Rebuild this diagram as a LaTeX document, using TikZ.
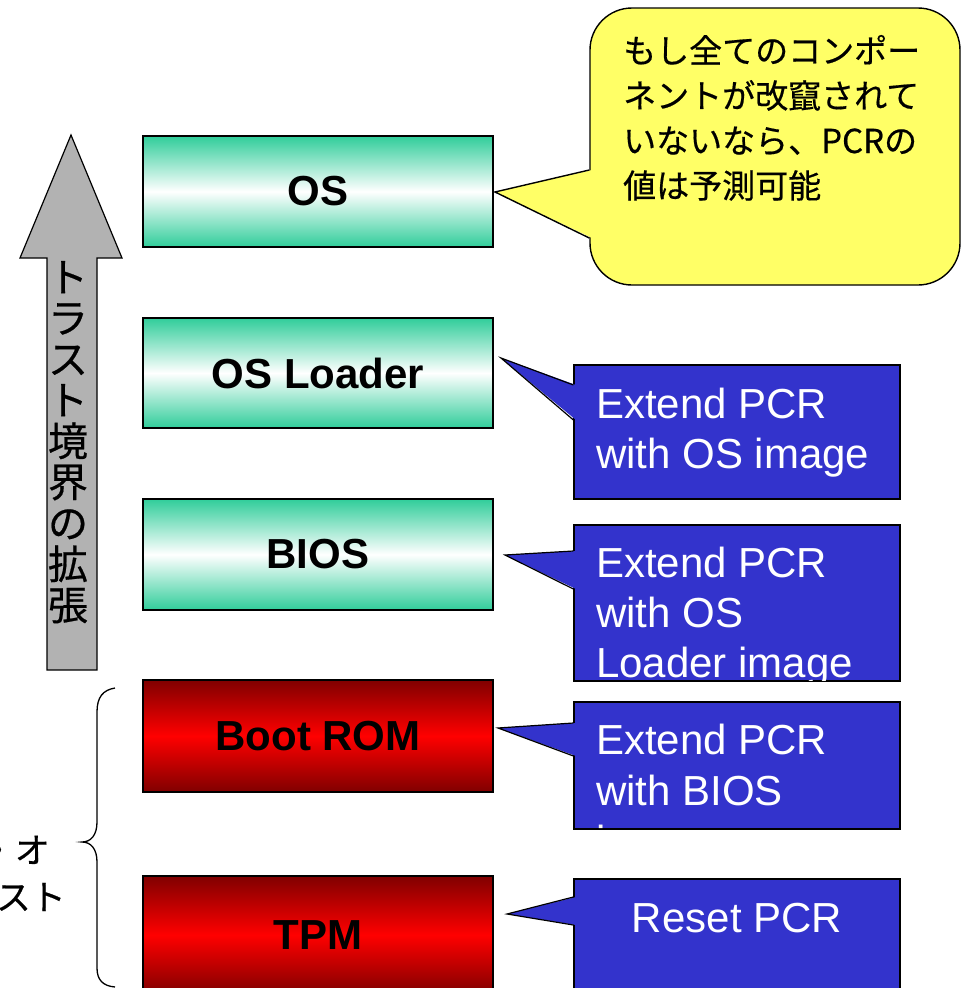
\documentclass[tikz,border=0pt]{standalone}
\usepackage{fontspec}
\setmainfont{Liberation Sans}
\newfontfamily\jpfont[FakeBold=0.5]{Noto Sans CJK JP}

\definecolor{tealc}{RGB}{48,205,154}
\definecolor{deepred}{RGB}{128,0,0}
\definecolor{purered}{RGB}{255,0,0}
\definecolor{pcrblue}{RGB}{51,51,204}
\definecolor{noteyellow}{RGB}{255,255,102}
\definecolor{arrowgray}{RGB}{178,178,178}

\tikzset{
  layer/.style={draw=black, line width=1.6pt, minimum width=350pt, inner sep=0pt,
    font=\fontsize{42}{50}\selectfont\bfseries},
  trusted/.style={layer, top color=tealc, bottom color=tealc, middle color=white},
  rootlayer/.style={layer, top color=deepred, bottom color=deepred, middle color=purered},
  pcrbox/.style={draw=black, line width=1.2pt, fill=pcrblue, minimum width=326pt, inner sep=0pt},
  pcrtext/.style={text=white, inner sep=0pt, font=\fontsize{42}{50}\selectfont},
  notetext/.style={inner sep=0pt, anchor=base west, font=\jpfont\fontsize{33}{40}\selectfont},
  sidetext/.style={inner sep=0pt, anchor=base east, font=\jpfont\fontsize{35}{40}\selectfont},
  edge/.style={draw=black, line width=1.2pt, line join=miter},
}

\begin{document}
\begin{tikzpicture}[x=1pt, y=-1pt]
\useasboundingbox (0,0) rectangle (962,988);
\clip (0,0) rectangle (962,988);

% upward block arrow: growth of the trust boundary
\draw[fill=arrowgray, line width=1.2pt, line join=miter]
  (47,670) -- (47,258) -- (20,258) -- (71,135) -- (122,258) -- (97,258) -- (97,670) -- cycle;
\foreach \ch [count=\i from 0] in {ト,ラ,ス,ト,境,界,の,拡,張}
  \node[inner sep=0pt, anchor=base, font=\jpfont\fontsize{40}{40}\selectfont]
    at (68,{292+41*\i}) {\ch};

% brace grouping the root layers, with its (partly off-page) label
\draw[line width=1.3pt]
  (115,688) .. controls (103,690) and (97,697) .. (97,712) -- (97,822)
  .. controls (97,835) and (91,842) .. (82,842)
  .. controls (91,842) and (97,849) .. (97,862) -- (97,968)
  .. controls (97,980) and (103,986) .. (115,987);
\node[sidetext] (rl1) at (50,863) {ルート・オ};
\node[sidetext] (rl2) at (66,910) {ブ・トラスト};

% boot chain layers
\node[trusted, minimum height=111pt] (os)   at (318,191.5) {OS};
\node[trusted, minimum height=110pt] (osl)  at (318,373)   {OS Loader};
\node[trusted, minimum height=111pt] (bios) at (318,554.5) {BIOS};
\node[rootlayer, minimum height=112pt] (brom) at (318,736) {Boot ROM};
\node[rootlayer, minimum height=118pt] (tpm)  at (318,935) {TPM};

% note balloon
\node[draw=black, line width=1.4pt, fill=noteyellow, rounded corners=42pt,
      minimum width=370pt, minimum height=277pt, inner sep=0pt] (note) at (775,146.5) {};
\coordinate (nt) at (495,192);
\fill[noteyellow] (nt) -- (592,170) -- (592,238) -- cycle;
\draw[edge, line width=1.4pt] (note.west |- 0,170) -- (nt) -- (note.west |- 0,238);
\node[notetext] at (623,63)  {もし全てのコンポー};
\node[notetext] at (623,108) {ネントが改竄されて};
\node[notetext] at (623,153) {いないなら、PCRの};
\node[notetext] at (623,198) {値は予測可能};

% PCR callouts
\node[pcrbox, minimum height=134pt] (c1) at (737,432)   {};
\node[pcrbox, minimum height=156pt] (c2) at (737,603)   {};
\node[pcrbox, minimum height=127pt] (c3) at (737,765.5) {};
\node[pcrbox, minimum height=118pt] (c4) at (737,938)   {};

\coordinate (t1) at (501,358);
\coordinate (t2) at (505,555);
\coordinate (t3) at (498,728);
\coordinate (t4) at (507,914);

\fill[pcrblue] (t1) -- (576,385) -- (576,420) -- cycle;
\draw[edge] (c1.west |- 0,385) -- (t1) -- (c1.west |- 0,420);
\fill[pcrblue] (t2) -- (576,551) -- (576,589) -- cycle;
\draw[edge] (c2.west |- 0,551) -- (t2) -- (c2.west |- 0,589);
\fill[pcrblue] (t3) -- (576,723) -- (576,756) -- cycle;
\draw[edge] (c3.west |- 0,723) -- (t3) -- (c3.west |- 0,756);
\fill[pcrblue] (t4) -- (576,897) -- (576,925) -- cycle;
\draw[edge] (c4.west |- 0,897) -- (t4) -- (c4.west |- 0,925);

\node[pcrtext, anchor=base west] at (596,418) {Extend PCR};
\node[pcrtext, anchor=base west] at (596,468) {with OS image};

\begin{scope}
  \clip (574,525) rectangle (900,680.5);
  \node[pcrtext, anchor=base west] at (596,577) {Extend PCR};
  \node[pcrtext, anchor=base west] at (596,627) {with OS};
  \node[pcrtext, anchor=base west] at (596,677) {Loader image};
\end{scope}

\begin{scope}
  \clip (574,702) rectangle (900,828.5);
  \node[pcrtext, anchor=base west] at (596,754) {Extend PCR};
  \node[pcrtext, anchor=base west] at (596,805) {with BIOS};
  \node[pcrtext, anchor=base west] at (596,855) {image};
\end{scope}

\node[pcrtext, anchor=base] at (737,932) {Reset PCR};
\end{tikzpicture}
\end{document}
